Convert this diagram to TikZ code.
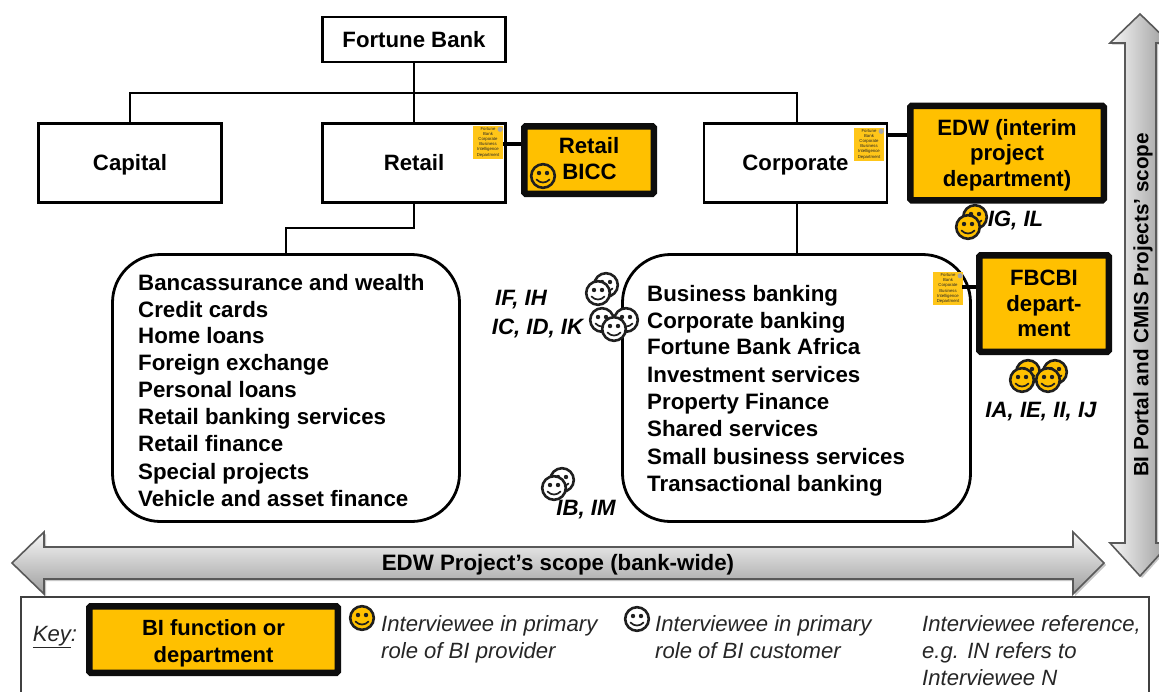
\documentclass[tikz,border=0pt]{standalone}
\usepackage{fontspec}
\setmainfont{Liberation Sans}
\usetikzlibrary{calc}
\definecolor{biorange}{HTML}{FFC000}
\definecolor{keygray}{HTML}{262626}
\tikzset{
  x=1pt,y=-1pt,
  conn/.style={draw=black,line width=2.8pt},
  stub/.style={draw=black,line width=3.6pt},
  plainbox/.style={draw=black,line width=2.8pt,fill=white,font=\fontsize{22.2}{26}\selectfont\bfseries,inner sep=0pt,text height=15pt,text depth=0pt},
  bibox/.style={draw=black!95,line width=6.5pt,fill=biorange,rounded corners=1.5pt,font=\fontsize{22.2}{25.8}\selectfont\bfseries,align=center,inner sep=0pt},
  group/.style={draw=black,line width=2.8pt,fill=white,rounded corners=48pt,inner sep=0pt},
  listtext/.style={font=\fontsize{22.3}{27}\selectfont\bfseries,anchor=base west,inner sep=0pt},
  ref/.style={font=\fontsize{22.2}{25}\selectfont\bfseries\itshape,anchor=base,inner sep=0pt},
  keytext/.style={font=\fontsize{22.1}{27.3}\selectfont\itshape,text=keygray,align=left,anchor=north west,inner sep=0pt},
  sticky/.style={fill=biorange!90,inner sep=0pt,minimum width=30pt,minimum height=33pt,font=\fontsize{4.3}{5.2}\selectfont,align=center,text=black!85},
  scopearrow/.style={draw=black!65,line width=1.6pt},
}
\newcommand{\smiley}[3]{% x, y, fill
  \begin{scope}[shift={(#1,#2)}]
    \filldraw[draw=black!88,line width=2.6pt,fill=#3] (0,0) circle[radius=11.8];
    \fill[black!88] (-4,-3) circle[radius=2.2] (4,-3) circle[radius=2.2];
    \draw[black!88,line width=1.7pt,line cap=round] (-6.5,3.5) .. controls (-3,7.5) and (3,7.5) .. (6.5,3.5);
  \end{scope}}
\begin{document}
\begin{tikzpicture}
\useasboundingbox (0,0) rectangle (1159,691);
\clip (0,0) rectangle (1159,691);
\fill[white] (0,0) rectangle (1159,691);

% scope arrows
\fill[black!22] (1112,44.5) -- (1142,15.5) -- (1172,44.5) -- (1158,44.5) -- (1158,544.5) -- (1172,544.5) -- (1142,578) -- (1112,544.5) -- (1127,544.5) -- (1127,44.5) -- cycle;
\path[scopearrow,left color=black!3,right color=black!40]
  (1110,43) -- (1140,14) -- (1170,43) -- (1156,43) -- (1156,543) -- (1170,543) -- (1140,576) -- (1110,543) -- (1125,543) -- (1125,43) -- cycle;
\fill[black!22] (14,565) -- (46,534) -- (46,549) -- (1075,549) -- (1075,534) -- (1106,565) -- (1075,596) -- (1075,581) -- (46,581) -- (46,596) -- cycle;
\path[scopearrow,top color=black!3,bottom color=black!38]
  (12,563) -- (44,532) -- (44,547) -- (1073,547) -- (1073,532) -- (1104,563) -- (1073,594) -- (1073,579) -- (44,579) -- (44,594) -- cycle;
\node[inner sep=0pt,font=\fontsize{22.3}{24}\selectfont\bfseries] (edwscope) at (558,565) {EDW Project’s scope (bank-wide)};
\node[inner sep=0pt,rotate=90,font=\fontsize{20.7}{24}\selectfont\bfseries] (biscope) at (1143,305) {BI Portal and CMIS Projects’ scope};

% org boxes
\node[plainbox,minimum width=183pt,minimum height=45pt] (bank) at (414,39.5) {Fortune Bank};
\node[plainbox,minimum width=183pt,minimum height=79pt] (capital) at (130,163) {Capital};
\node[plainbox,minimum width=183pt,minimum height=79pt] (retail) at (414,163) {Retail};
\node[plainbox,minimum width=183pt,minimum height=79pt] (corporate) at (795.5,163) {Corporate};

% groups
\node[group,minimum width=347pt,minimum height=267pt] (retailgroup) at (286,388) {};
\node[group,minimum width=348pt,minimum height=267pt] (corpgroup) at (796.5,388) {};

% tree connectors
\coordinate (busL) at (130,93);
\coordinate (busR) at (797,93);
\coordinate (retailelbow) at (286,228);
\coordinate (retaildown) at (414,228);
\draw[conn] (bank.south) -- (retail.north);
\draw[conn] (capital.north) -- (busL) -- (busR) -- (corporate.north -| busR);
\draw[conn] (retail.south) -- (retaildown) -- (retailelbow) -- (retailgroup.north -| retailelbow);
\draw[conn] (corporate.south -| busR) -- (corpgroup.north -| busR);

% BI boxes
\node[bibox,minimum width=129.5pt,minimum height=67.5pt] (bicc) at (589,160) {Retail\\\hspace*{1pt}BICC\rule[-3pt]{0pt}{3pt}};
\node[bibox,minimum width=193.5pt,minimum height=94.5pt] (edw) at (1007,153) {\rule{0pt}{20.5pt}EDW (interim\\project\\department)};
\node[bibox,minimum width=129.5pt,minimum height=96.5pt] (fbcbi) at (1044,303.5) {FBCBI\\depart-\\ment};

% sticky notes
\node[sticky] (st1) at (488,142) {Fortune\\Bank\\Corporate\\Business\\Intelligence\\Department};
\node[sticky] (st2) at (869,144) {Fortune\\Bank\\Corporate\\Business\\Intelligence\\Department};
\node[sticky] (st3) at (948,288.5) {Fortune\\Bank\\Corporate\\Business\\Intelligence\\Department};
\fill[black!35] (st1.north east) ++(-3,4) circle[radius=2.6];
\fill[black!35] (st2.north east) ++(-3,4) circle[radius=2.6];
\fill[black!35] (st3.north east) ++(-3,4) circle[radius=2.6];
\coordinate (st1c) at (503,144);
\coordinate (st2c) at (886,135);
\coordinate (st3c) at (962,287);
\draw[stub] (st1c) -- (st1c -| bicc.west);
\draw[stub] (st2c) -- (st2c -| edw.west);
\draw[stub] (st3c) -- (st3c -| fbcbi.west);

% lists
\foreach \y/\t [count=\i] in {290/Bancassurance and wealth,317/Credit cards,343/Home loans,370/Foreign exchange,397/Personal loans,424/Retail banking services,451/Retail finance,479/Special projects,506/Vehicle and asset finance}
  \node[listtext] (r\i) at (138,\y) {\t};
\foreach \y/\t [count=\i] in {301/Business banking,328/Corporate banking,354/Fortune Bank Africa,382/Investment services,409/Property Finance,436/Shared services,464/Small business services,491/Transactional banking}
  \node[listtext] (c\i) at (647,\y) {\t};

% smileys
\smiley{543}{176}{biorange}
\smiley{975}{217}{biorange}\smiley{968}{227}{biorange}
\smiley{1028}{372}{biorange}\smiley{1022}{380}{biorange}
\smiley{1055}{372}{biorange}\smiley{1048}{380}{biorange}
\smiley{606}{285}{white}\smiley{598}{293}{white}
\smiley{602}{320}{white}\smiley{626}{320}{white}\smiley{614}{329}{white}
\smiley{562}{480}{white}\smiley{554}{488}{white}

% interviewee refs
\node[ref] (l1) at (521,305) {IF, IH};
\node[ref] (l2) at (537.5,334) {IC, ID, IK};
\node[ref] (l3) at (586,515) {IB, IM};
\node[ref] (l4) at (1015.5,226) {IG, IL};
\node[ref] (l5) at (1041,417) {IA, IE, II, IJ};

% key
\node[draw=black!75,line width=1.5pt,fill=none,minimum width=1128pt,minimum height=120pt,inner sep=0pt] (keyframe) at (585,657) {};
\node[font=\fontsize{22.1}{25}\selectfont\itshape,text=keygray,inner sep=0pt] (keylabel) at (55,637) {\underline{Key}:};
\node[bibox,minimum width=248.5pt,minimum height=66.5pt,font=\fontsize{22}{27}\selectfont\bfseries] (keybox) at (213.5,639.5) {\rule{0pt}{23pt}BI function or\\department};
\smiley{362}{618}{biorange}
\smiley{637}{619}{white}
\node[keytext] (k1) at (381,615) {Interviewee in primary\\role of BI provider};
\node[keytext] (k2) at (655,615) {Interviewee in primary\\role of BI customer};
\node[keytext] (k3) at (922,615) {Interviewee reference,\\e.g. IN refers to\\Interviewee N};
\end{tikzpicture}
\end{document}
